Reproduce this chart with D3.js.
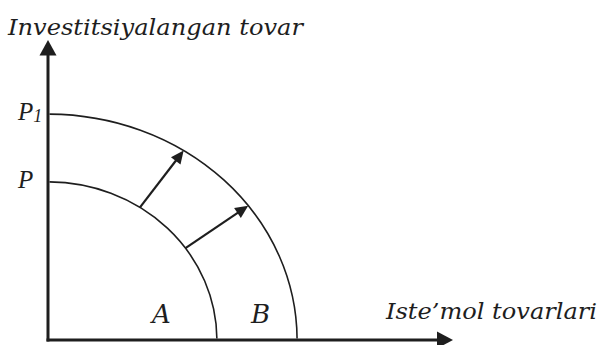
<!DOCTYPE html>
<html>
<head>
<meta charset="utf-8">
<script src="https://cdn.jsdelivr.net/npm/d3@7"></script>
<style>
  body { margin: 0; background: #fff; }
  svg { display: block; }
</style>
</head>
<body>
<svg width="600" height="345"></svg>
<script>
// frontier intercepts (P = old, P1 = shifted out)
var curveNames = ["P", "P1"];
var xIntercepts = [41.7, 61.5];
var yIntercepts = [52.7, 75.3];
// arrows: angle on inner curve -> angle on outer curve (degrees)
var arrowFrom = [57, 35.5];
var arrowTo = [57, 36.5];
// region labels
var regionNames = ["A", "B"];
var regionX = [28, 52.5];

var svg = d3.select("svg");
var ink = "#1e1e1e";

var x = d3.scaleLinear().domain([0, 100]).range([48, 453]);
var y = d3.scaleLinear().domain([0, 100]).range([340, 40]);

// axes
svg.append("line")
    .attr("x1", x(0)).attr("y1", y(0) + 1.5)
    .attr("x2", x(0)).attr("y2", y(100) + 14)
    .attr("stroke", ink).attr("stroke-width", 3);
svg.append("path")
    .attr("d", "M" + x(0) + "," + y(100) + "l-8.5,15.5h17z")
    .attr("fill", ink);
svg.append("line")
    .attr("x1", x(0) - 1.5).attr("y1", y(0))
    .attr("x2", x(100) - 15).attr("y2", y(0))
    .attr("stroke", ink).attr("stroke-width", 3);
svg.append("path")
    .attr("d", "M" + x(100) + "," + y(0) + "l-16,-8.5v17z")
    .attr("fill", ink);

// frontiers as quarter ellipses
svg.selectAll("path.curve")
    .data(curveNames)
  .enter().append("path")
    .attr("class", "curve")
    .attr("fill", "none")
    .attr("stroke", ink)
    .attr("stroke-width", 1.6)
    .attr("d", function(d, i) {
      var rx = x(xIntercepts[i]) - x(0), ry = y(0) - y(yIntercepts[i]);
      return "M" + (x(0) + 1.5) + "," + y(yIntercepts[i]) +
        "A" + rx + "," + ry + " 0 0 1 " + x(xIntercepts[i]) + "," + (y(0) - 1.5);
    });

function onCurve(i, deg) {
  var t = deg * Math.PI / 180;
  return [x(xIntercepts[i] * Math.cos(t)), y(yIntercepts[i] * Math.sin(t))];
}

// shift arrows
arrowFrom.forEach(function(a, k) {
  var p0 = onCurve(0, a), p1 = onCurve(1, arrowTo[k]);
  var ang = Math.atan2(p1[1] - p0[1], p1[0] - p0[0]);
  var len = 13, half = 6;
  var bx = p1[0] - len * Math.cos(ang), by = p1[1] - len * Math.sin(ang);
  svg.append("line")
      .attr("x1", p0[0]).attr("y1", p0[1])
      .attr("x2", bx + 2 * Math.cos(ang)).attr("y2", by + 2 * Math.sin(ang))
      .attr("stroke", ink).attr("stroke-width", 2.2);
  svg.append("path")
      .attr("d", "M" + p1[0] + "," + p1[1] +
        "L" + (bx - half * Math.sin(ang)) + "," + (by + half * Math.cos(ang)) +
        "L" + (bx + half * Math.sin(ang)) + "," + (by - half * Math.cos(ang)) + "Z")
      .attr("fill", ink);
});

// P labels on y axis
var plab = svg.selectAll("text.plab")
    .data(curveNames)
  .enter().append("text")
    .attr("class", "plab")
    .attr("x", 18)
    .attr("y", function(d, i) { return y(yIntercepts[i]) + 6; })
    .attr("font-family", "Liberation Serif")
    .attr("font-style", "italic")
    .attr("font-size", 25)
    .attr("fill", ink)
    .text("P");
plab.filter(function(d) { return d === "P1"; })
  .append("tspan")
    .attr("dy", 2)
    .attr("font-size", 18)
    .text("1");

// region labels
svg.selectAll("text.region")
    .data(regionNames)
  .enter().append("text")
    .attr("class", "region")
    .attr("x", function(d, i) { return x(regionX[i]); })
    .attr("y", y(0) - 17)
    .attr("text-anchor", "middle")
    .attr("font-family", "DejaVu Serif")
    .attr("font-style", "italic")
    .attr("font-size", 26)
    .attr("fill", ink)
    .text(function(d) { return d; });

// axis titles
svg.append("text")
    .attr("x", 8).attr("y", 35)
    .attr("font-family", "DejaVu Serif")
    .attr("font-style", "italic")
    .attr("font-size", 22)
    .attr("fill", ink)
    .attr("textLength", 295)
    .attr("lengthAdjust", "spacingAndGlyphs")
    .text("Investitsiyalangan tovar");
svg.append("text")
    .attr("x", 386).attr("y", 319)
    .attr("font-family", "DejaVu Serif")
    .attr("font-style", "italic")
    .attr("font-size", 22)
    .attr("fill", ink)
    .attr("textLength", 211)
    .attr("lengthAdjust", "spacingAndGlyphs")
    .text("Iste\u2019mol tovarlari");
</script>
</body>
</html>
